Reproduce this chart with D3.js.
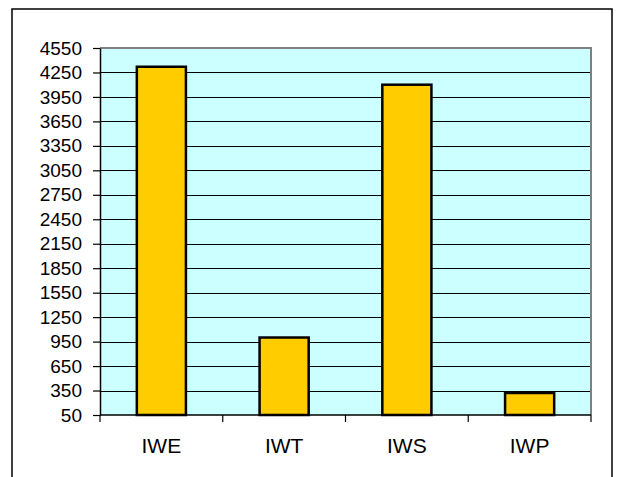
<!DOCTYPE html>
<html>
<head>
<meta charset="utf-8">
<script src="https://cdn.jsdelivr.net/npm/d3@7"></script>
<style>
  html, body { margin: 0; padding: 0; background: #fff; }
  svg { display: block; font-family: Arial, "Liberation Sans", sans-serif; }
</style>
</head>
<body>
<svg id="chart" width="617" height="477"></svg>
<script>
const categories = ["IWE", "IWT", "IWS", "IWP"];
const values = [4320, 1000, 4100, 320];
const yTicks = [50, 350, 650, 950, 1250, 1550, 1850, 2150, 2450, 2750, 3050, 3350, 3650, 3950, 4250, 4550];

const svg = d3.select("#chart");
const plot = { left: 100, top: 48, right: 591, bottom: 415 };

// outer chart border, runs off the bottom edge like the original
svg.append("rect")
  .attr("x", 12).attr("y", 9)
  .attr("width", 600).attr("height", 480)
  .attr("fill", "#fff")
  .attr("stroke", "#000")
  .attr("stroke-width", 1.5);

const x = d3.scaleBand()
  .domain(categories)
  .range([plot.left, plot.right])
  .paddingInner(0.6)
  .paddingOuter(0.3);

const y = d3.scaleLinear()
  .domain([50, 4550])
  .range([plot.bottom, plot.top]);

svg.append("rect")
  .attr("x", plot.left).attr("y", plot.top)
  .attr("width", plot.right - plot.left)
  .attr("height", plot.bottom - plot.top)
  .attr("fill", "#CCFFFF");

// gridlines
svg.append("g")
  .selectAll("line")
  .data(yTicks.slice(1, -1))
  .join("line")
  .attr("x1", plot.left).attr("x2", plot.right)
  .attr("y1", (d) => Math.round(y(d)) + 0.5)
  .attr("y2", (d) => Math.round(y(d)) + 0.5)
  .attr("stroke", "#000")
  .attr("stroke-width", 1);

// gray plot frame on top and right
svg.append("path")
  .attr("d", `M${plot.left},${plot.top} H${plot.right} V${plot.bottom}`)
  .attr("fill", "none")
  .attr("stroke", "#808080")
  .attr("stroke-width", 2);

svg.append("g")
  .selectAll("rect")
  .data(categories)
  .join("rect")
  .attr("x", (d) => x(d))
  .attr("y", (d, i) => y(values[i]))
  .attr("width", x.bandwidth())
  .attr("height", (d, i) => y(50) - y(values[i]))
  .attr("fill", "#FFCC00")
  .attr("stroke", "#000")
  .attr("stroke-width", 2.5);

// y axis
const yAxis = svg.append("g")
  .attr("transform", `translate(${plot.left},0)`)
  .call(d3.axisLeft(y).tickValues(yTicks).tickFormat(d3.format("d"))
    .tickSize(7).tickPadding(11).tickSizeOuter(0));
yAxis.attr("font-size", null).attr("font-family", null);
yAxis.select(".domain").attr("stroke", "#000").attr("stroke-width", 1.5);
yAxis.selectAll(".tick line").attr("stroke", "#000").attr("stroke-width", 1.2);
yAxis.selectAll("text")
  .attr("fill", "#000")
  .attr("font-size", 19);

// x axis with ticks at band edges
const step = (plot.right - plot.left) / categories.length;
svg.append("line")
  .attr("x1", plot.left).attr("x2", plot.right)
  .attr("y1", plot.bottom).attr("y2", plot.bottom)
  .attr("stroke", "#000").attr("stroke-width", 1.5);
svg.append("g")
  .selectAll("line")
  .data(d3.range(categories.length + 1))
  .join("line")
  .attr("x1", (i) => plot.left + i * step)
  .attr("x2", (i) => plot.left + i * step)
  .attr("y1", plot.bottom).attr("y2", plot.bottom + 7)
  .attr("stroke", "#000").attr("stroke-width", 1.2);

svg.append("g")
  .selectAll("text")
  .data(categories)
  .join("text")
  .attr("x", (d) => x(d) + x.bandwidth() / 2)
  .attr("y", 453)
  .attr("text-anchor", "middle")
  .attr("font-size", 21)
  .attr("fill", "#000")
  .text((d) => d);
</script>
</body>
</html>
